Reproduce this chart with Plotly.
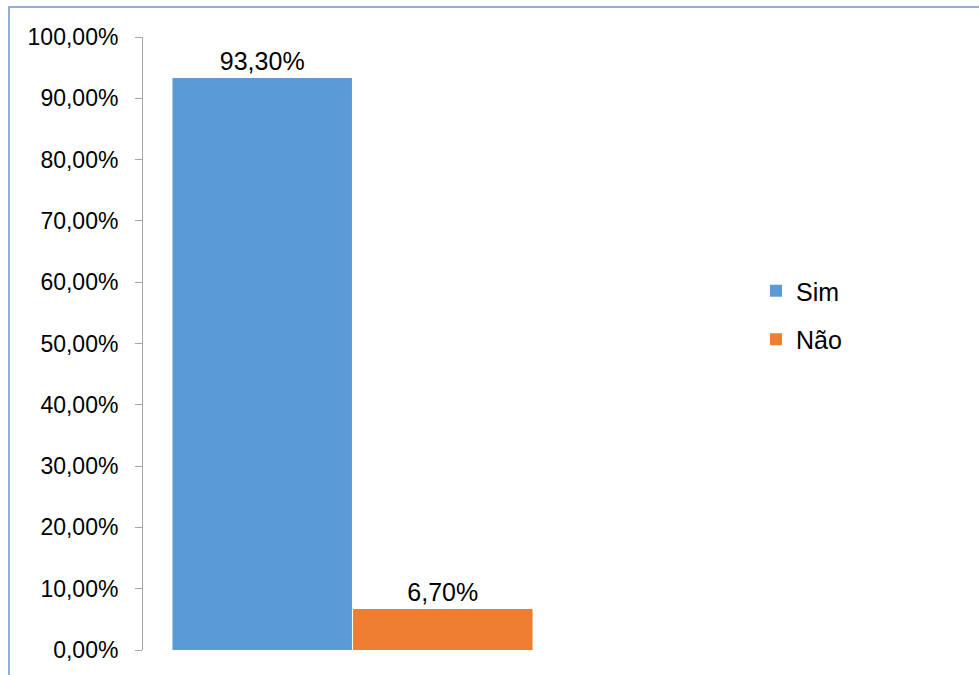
import plotly.graph_objects as go

# Response shares (fractions of 1)
categories = [""]
series_names = ["Sim", "Não"]
sim_values = [0.933]
nao_values = [0.067]
colors = ["#5B9BD5", "#ED7D31"]
tick_values = [i / 10 for i in range(11)]

W, H = 979, 675
L, R, T, B = 143, 417, 37, 25
plot_w = W - L - R
plot_h = H - T - B


def px_x(p):
    return (p - L) / plot_w


def px_y(p):
    return (H - B - p) / plot_h


fig = go.Figure()
for name, vals, col in zip(series_names, [sim_values, nao_values], colors):
    fig.add_trace(go.Bar(
        x=categories, y=vals, name=name, legendgroup=name,
        marker=dict(color=col, line=dict(width=0)),
        texttemplate="%{y:.2%}", textposition="outside", cliponaxis=False,
        textfont=dict(family="Liberation Sans, Arial", size=25, color="#000000"),
    ))

fig.update_layout(
    width=W, height=H,
    margin=dict(l=L, r=R, t=T, b=B, pad=0),
    paper_bgcolor="white", plot_bgcolor="white",
    separators=",.",
    barmode="group", bargap=0.138, bargroupgap=0.006,
    font=dict(family="Liberation Sans, Arial", color="#000000"),
    showlegend=True,
    legend=dict(
        x=px_x(756), y=px_y(315), xanchor="left", yanchor="middle",
        xref="paper", yref="paper",
        font=dict(size=25, color="#000000"),
        tracegroupgap=13, itemwidth=30, bgcolor="rgba(0,0,0,0)",
    ),
    xaxis=dict(showline=False, showticklabels=False, ticks="", showgrid=False,
               zeroline=False, range=[-0.5, 0.5]),
    yaxis=dict(
        range=[0, 1], tickvals=tick_values, tickformat=".2%",
        showline=True, linecolor="#A6A6A6", linewidth=1,
        ticks="outside", ticklen=7, tickcolor="#A6A6A6", tickwidth=1,
        showgrid=False, zeroline=False,
        tickfont=dict(size=23, color="#000000"),
        ticklabelstandoff=12,
    ),
    shapes=[dict(
        type="rect", xref="paper", yref="paper",
        x0=px_x(9), x1=px_x(W + 20), y0=px_y(H + 20), y1=px_y(7),
        line=dict(color="#6F97C8", width=1.5), fillcolor="rgba(0,0,0,0)",
        layer="above",
    )],
)

fig.write_html("out.html")
